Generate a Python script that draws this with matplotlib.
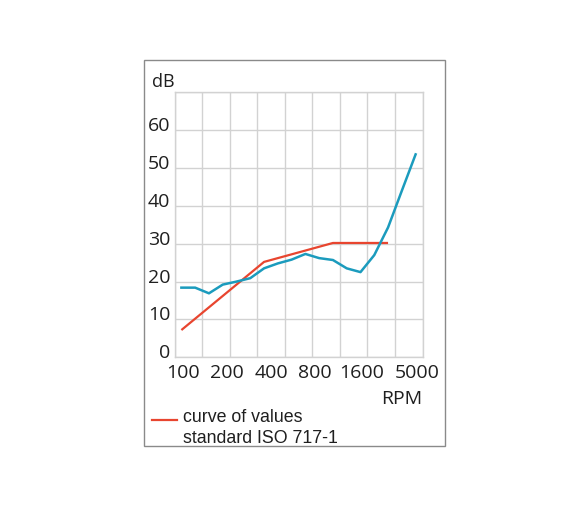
import numpy as np
import matplotlib.pyplot as plt
from matplotlib.lines import Line2D
from matplotlib.patches import Rectangle

# third-octave bands, 100 Hz ... 5000 Hz (index positions on the x axis)
bands = [100, 125, 160, 200, 250, 315, 400, 500, 630, 800, 1000, 1250,
         1600, 2000, 2500, 3150, 4000, 5000]
measured_db = [18.4, 18.4, 16.9, 19.2, 20.0, 20.9, 23.5, 24.8, 25.8, 27.3,
               26.2, 25.7, 23.5, 22.5, 27.0, 34.3, 44.0, 53.6]
# ISO 717-1 reference curve, 100 ... 3150 Hz
reference_db = [7.2, 10.2, 13.2, 16.2, 19.2, 22.2, 25.2, 26.2, 27.2, 28.2,
                29.2, 30.2, 30.2, 30.2, 30.2, 30.2]

tick_labels = ["100", "200", "400", "800", "1600", "5000"]
tick_pos = [0.1, 3.3, 6.5, 9.7, 13.1, 17.1]
y_ticks = [0, 10, 20, 30, 40, 50, 60]

W, H = 588, 506
fig = plt.figure(figsize=(W / 100, H / 100), dpi=100)
fig.patch.set_facecolor("white")

def fx(px):
    return px / W

def fy(py):
    return 1 - py / H

ax = fig.add_axes([fx(174.5), fy(358.3), (422.5 - 174.5) / W, (358.3 - 93.3) / H])

blue = "#1b9bbd"
red = "#e8452f"
grid_c = "#d2d2d2"
text_c = "#1f1f1f"

x_meas = np.arange(len(measured_db))
x_ref = np.arange(len(reference_db))
ax.plot(x_ref, reference_db, color=red, lw=1.6, zorder=3, solid_capstyle="butt")
ax.plot(x_meas, measured_db, color=blue, lw=1.8, zorder=4)

ax.set_xlim(-0.5, 17.5)
ax.set_ylim(0, 70)
ax.set_xticks(np.arange(-0.5, 17.6, 2), minor=True)
ax.set_xticks(tick_pos)
ax.set_xticklabels(tick_labels)
ax.set_yticks(np.arange(0, 71, 10))
ax.set_yticklabels([str(v) if v in y_ticks else "" for v in range(0, 71, 10)])
ax.grid(False)
ax.grid(axis="x", which="minor", color=grid_c, lw=1.0)
ax.grid(axis="y", which="major", color=grid_c, lw=1.0)
ax.set_axisbelow(True)
ax.tick_params(which="both", length=0)
ax.tick_params(axis="x", pad=4, labelsize=14, labelcolor=text_c)
ax.tick_params(axis="y", pad=3, labelsize=14, labelcolor=text_c)
for lab in ax.get_xticklabels() + ax.get_yticklabels():
    lab.set_fontfamily("Open Sans")
for lab in ax.get_yticklabels():
    lab.set_va("baseline")
for s in ax.spines.values():
    s.set_color(grid_c)
    s.set_linewidth(1.0)

fig.text(fx(151.7), fy(86.7), "dB", fontsize=13, family="Open Sans",
         color=text_c, va="baseline", ha="left")
fig.text(fx(402), fy(404.3), "RPM", fontsize=14, family="Open Sans",
         color=text_c, va="baseline", ha="center")

# legend
fig.add_artist(Line2D([fx(151.7), fx(177.3)], [fy(420.7), fy(420.7)], color=red, lw=1.6))
fig.text(fx(183.3), fy(421.7), "curve of values", fontsize=12.8,
         family="Liberation Sans", color=text_c, va="baseline")
fig.text(fx(183.3), fy(443.0), "standard ISO 717-1", fontsize=12.8,
         family="Liberation Sans", color=text_c, va="baseline")

# outer frame
fig.add_artist(Rectangle((fx(144), fy(447)), (445 - 144) / W, (447 - 61) / H,
                         transform=fig.transFigure, fill=False,
                         edgecolor="#8a8a8a", lw=1.0))

fig.savefig("out.png", dpi=100)
